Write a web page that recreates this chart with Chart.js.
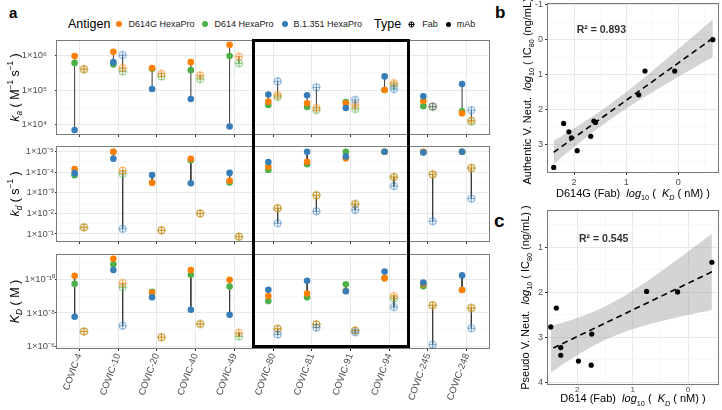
<!DOCTYPE html>
<html>
<head>
<meta charset="utf-8">
<title>Binding kinetics vs neutralization</title>
<script src="https://cdn.jsdelivr.net/npm/chart.js@4.4.1/dist/chart.umd.min.js"></script>
<style>
  body { margin: 0; background: #fff; }
  #fig { position: relative; width: 722px; height: 410px; overflow: hidden; font-family: "Liberation Sans", Arial, sans-serif; }
  #fig canvas { position: absolute; }
  .tag { position: absolute; font-weight: bold; line-height: 1; color: #000; }
  #legend { position: absolute; left: 68px; top: 15px; height: 18px; display: flex; align-items: center; white-space: nowrap; font-size: 9px; color: #1a1a1a; }
  #legend .ttl { font-size: 12.5px; margin-right: 6px; color: #000; }
  #legend .item { display: flex; align-items: center; margin-right: 8px; }
  #legend .dot { display: inline-block; border-radius: 50%; margin-right: 6px; }
  #legend img { margin-right: 6px; }
  #box { position: absolute; border: 3px solid #000; box-sizing: border-box; }
</style>
</head>
<body>
<div id="fig">
  <div class="tag" style="left:9px;top:5px;font-size:15px">a</div>
  <div class="tag" style="left:495px;top:4px;font-size:17px">b</div>
  <div class="tag" style="left:494px;top:211px;font-size:19px">c</div>
  <div id="legend"></div>
  <canvas id="ka" width="495" height="110" style="left:0;top:30px"></canvas>
  <canvas id="kd" width="495" height="105" style="left:0;top:140px"></canvas>
  <canvas id="KD" width="495" height="162" style="left:0;top:248px"></canvas>
  <canvas id="corrB" width="240" height="205" style="left:482px;top:0"></canvas>
  <canvas id="corrC" width="240" height="205" style="left:482px;top:205px"></canvas>
  <div id="box"></div>
</div>
<script>
// ---- data (panel a) ----
const covics = ['COVIC-4', 'COVIC-10', 'COVIC-20', 'COVIC-40', 'COVIC-49', 'COVIC-80', 'COVIC-81', 'COVIC-91', 'COVIC-94', 'COVIC-245', 'COVIC-248'];
const antigens = ['D614G HexaPro', 'D614 HexaPro', 'B.1.351 HexaPro'];
const types = ['Fab', 'mAb'];
const highlight = ['COVIC-80', 'COVIC-94'];

// association rate ka (M^-1 s^-1)
const kaMabD614G = [9.8e5, 1.3e6, 4.4e5, 6.5e5, 2.1e6, 4.6e4, 4.1e4, 4.1e4, 1.0e5, 4.8e4, 2.1e4];
const kaMabD614  = [6.2e5, 5.6e5, 4.2e5, 3.8e5, 9.8e5, 3.7e4, 3.2e4, 4.5e4, 1.0e5, 3.4e4, 2.4e4];
const kaMabB1351 = [6.9e3, 6.5e5, 1.07e5, 5.5e4, 8.7e3, 7.4e4, 7.1e4, 3.0e4, 2.5e5, 6.6e4, 1.5e5];
const kaFabD614G = [4.1e5, 4.4e5, 3.0e5, 2.7e5, 9.5e5, 7.1e4, 3.0e4, 3.7e4, 1.6e5, 3.3e4, 1.3e4];
const kaFabD614  = [4.0e5, 3.5e5, 2.5e5, 2.1e5, 6.0e5, 6.3e4, 2.6e4, 2.8e4, 1.4e5, 3.3e4, 1.2e4];
const kaFabB1351 = [null, 1.05e6, null, null, null, 1.8e5, 1.2e5, 5.2e4, 1.07e5, 3.3e4, 2.6e4];

// dissociation rate kd (s^-1)
const kdMabD614G = [6.9e-5, 1.0e-5, 3.2e-4, 2.2e-5, 2.6e-4, 5.4e-5, 3.1e-5, 2.1e-5, 1.0e-5, 1.0e-5, 1.0e-5];
const kdMabD614  = [1.4e-4, 1.0e-5, 3.2e-4, 2.6e-5, 3.1e-4, 7.8e-5, 4.1e-5, 1.0e-5, 1.0e-5, 1.05e-5, 1.0e-5];
const kdMabB1351 = [1.1e-4, 2.2e-5, 1.35e-4, 3.4e-4, 1.07e-4, 3.2e-5, 1.0e-5, 1.7e-5, 1.0e-5, 1.1e-5, 1.0e-5];
const kdFabD614G = [4.7e-2, 8.3e-5, 6.6e-2, 1.0e-2, 1.35e-1, 5.6e-3, 1.3e-3, 3.5e-3, 1.7e-4, 1.26e-4, 6.2e-5];
const kdFabD614  = [4.7e-2, 1.2e-4, 6.6e-2, 1.0e-2, 1.35e-1, 5.6e-3, 1.3e-3, 3.5e-3, 1.7e-4, 1.26e-4, 6.2e-5];
const kdFabB1351 = [null, 5.6e-2, null, null, null, 3.0e-2, 7.8e-3, 6.8e-3, 4.7e-4, 2.4e-2, 1.9e-3];

// affinity KD (M)
const KDMabD614G = [6.3e-11, 6.2e-12, 6.3e-10, 2.9e-11, 1.1e-10, 1.0e-9, 7.1e-10, 5.1e-10, 8.7e-11, 1.9e-10, 4.4e-10];
const KDMabD614  = [1.9e-10, 1.3e-11, 5.6e-10, 5.5e-11, 2.75e-10, 2.0e-9, 1.2e-9, 2.0e-10, 8.7e-11, 2.6e-10, 4.4e-10];
const KDMabB1351 = [1.7e-8, 2.9e-11, 1.2e-9, 6.5e-9, 1.3e-8, 4.2e-10, 1.26e-10, 5.2e-10, 3.5e-11, 1.6e-10, 6.0e-11];
const KDFabD614G = [1.26e-7, 1.7e-10, 2.75e-7, 4.5e-8, 1.5e-7, 8.7e-8, 4.7e-8, 1.1e-7, 1.0e-9, 3.5e-9, 5.1e-9];
const KDFabD614  = [1.26e-7, 3.0e-10, 2.75e-7, 4.5e-8, 2.5e-7, 8.7e-8, 4.7e-8, 1.1e-7, 1.4e-9, 3.5e-9, 5.1e-9];
const KDFabB1351 = [null, 5.8e-8, null, null, null, 1.9e-7, 7.4e-8, 1.4e-7, 4.5e-9, 7.6e-7, 8.1e-8];

// log axis ticks
const kaTicks = [1e4, 1e5, 1e6];
const kaTickLabels = ['1×10⁴', '1×10⁵', '1×10⁶'];
const kaMinor = [3.162e4, 3.162e5];
const kdTicks = [1e-5, 1e-4, 1e-3, 1e-2, 1e-1];
const kdTickLabels = ['1×10⁻⁵', '1×10⁻⁴', '1×10⁻³', '1×10⁻²', '1×10⁻¹'];
const kdMinor = [3.162e-5, 3.162e-4, 3.162e-3, 3.162e-2];
const KDTicks = [1e-10, 1e-8, 1e-6];
const KDTickLabels = ['1×10⁻¹⁰', '1×10⁻⁸', '1×10⁻⁶'];
const KDMinor = [1e-11, 1e-9, 1e-7];

// ---- data (panels b, c) ----
const bKD = [-0.66, 0.64, 0.07, 0.76, 1.62, 1.59, 2.20, 2.10, 2.05, 1.68, 1.94, 2.39];
const bIC80 = [0.00, 0.90, 0.90, 1.58, 2.33, 2.37, 2.40, 2.64, 2.81, 2.77, 3.18, 3.66];
const cKD = [-0.43, 0.75, 0.19, 2.38, 2.48, 1.74, 2.30, 2.30, 1.98, 1.75];
const cIC80 = [1.33, 1.98, 1.99, 2.35, 2.77, 2.93, 3.23, 3.40, 3.53, 3.62];
const bXTicks = [0, 1, 2], bXMinor = [-0.5, 0.5, 1.5];
const bYTicks = [-1, 0, 1, 2, 3], bYMinor = [-0.5, 0.5, 1.5, 2.5, 3.5];
const cXTicks = [0, 1, 2], cXMinor = [-0.5, 0.5, 1.5, 2.5];
const cYTicks = [1, 2, 3, 4], cYMinor = [0.5, 1.5, 2.5, 3.5];
const r2Labels = ['R² = 0.893', 'R² = 0.545'];

// ---- style ----
const colors = ['#FF7F00', '#4DAF4A', '#377EB8'];
const drawOrder = [2, 3, 1];   // blue on top, green at the bottom
const dodge = 0.12;
const FONT = '"Liberation Sans", Arial, sans-serif';
const tickCol = '#4D4D4D';
const gridMajor = '#E9E9E9', gridMinor = '#F4F4F4';

Chart.defaults.font.family = FONT;

function makeFab(color, r, alpha) {
  const s = Math.ceil(r * 2 + 3);
  const c = document.createElement('canvas');
  c.width = s; c.height = s;
  const g = c.getContext('2d');
  const m = s / 2;
  g.globalAlpha = alpha;
  g.strokeStyle = color;
  g.lineWidth = 1;
  g.beginPath(); g.arc(m, m, r, 0, Math.PI * 2); g.stroke();
  g.beginPath();
  g.moveTo(m - r, m); g.lineTo(m + r, m);
  g.moveTo(m, m - r); g.lineTo(m, m + r);
  g.stroke();
  return c;
}
const fabImgs = colors.map(c => makeFab(c, 3.6, 0.7));

// rich text (italic, sub/superscripts) for axis titles
function drawRich(ctx, parts, x, y, rot, size, color) {
  ctx.save();
  ctx.translate(x, y);
  ctx.rotate(rot);
  ctx.fillStyle = color;
  ctx.textBaseline = 'alphabetic';
  ctx.textAlign = 'left';
  const font = p => (p.it ? 'italic ' : '') + ((p.sub || p.sup) ? size * 0.66 : size) + 'px ' + FONT;
  let w = 0;
  parts.forEach(p => { ctx.font = font(p); w += ctx.measureText(p.t).width; });
  let cx = -w / 2;
  parts.forEach(p => {
    ctx.font = font(p);
    const dy = p.sub ? size * 0.28 : p.sup ? -size * 0.42 : 0;
    ctx.fillText(p.t, cx, size * 0.36 + dy);
    cx += ctx.measureText(p.t).width;
  });
  ctx.restore();
}

const axisTitles = {
  id: 'axisTitles',
  afterDraw(chart, args, opts) {
    const a = chart.chartArea;
    (opts.items || []).forEach(it => {
      const x = it.axis === 'y' ? it.pos : (a.left + a.right) / 2;
      const y = it.axis === 'y' ? (a.top + a.bottom) / 2 : it.pos;
      drawRich(chart.ctx, it.parts, x, y, it.axis === 'y' ? -Math.PI / 2 : 0, it.size, '#000');
    });
  }
};
const panelBorder = {
  id: 'panelBorder',
  afterDraw(chart) {
    const a = chart.chartArea, ctx = chart.ctx;
    ctx.save();
    ctx.strokeStyle = '#7a7a7a';
    ctx.lineWidth = 1;
    ctx.strokeRect(Math.round(a.left) - 0.5, Math.round(a.top) - 0.5, Math.round(a.right - a.left) + 1, Math.round(a.bottom - a.top) + 1);
    ctx.restore();
  }
};
const note = {
  id: 'note',
  afterDatasetsDraw(chart, args, opts) {
    if (!opts.text) return;
    const ctx = chart.ctx;
    ctx.save();
    ctx.font = 'bold 10.5px ' + FONT;
    ctx.fillStyle = '#333';
    ctx.textBaseline = 'middle';
    ctx.textAlign = 'left';
    ctx.fillText(opts.text, chart.scales.x.getPixelForValue(opts.x), chart.scales.y.getPixelForValue(opts.y));
    ctx.restore();
  }
};
Chart.register(axisTitles, panelBorder, note);

const isMinor = c => c.tick && c.tick.minor;
function gridOpts(len) {
  return {
    color: c => isMinor(c) ? gridMinor : gridMajor,
    lineWidth: c => isMinor(c) ? 0.6 : 1,
    tickColor: c => isMinor(c) ? 'rgba(0,0,0,0)' : '#333',
    tickLength: len
  };
}
function setTicks(major, labels, minor) {
  return s => {
    s.ticks = major.map((v, i) => ({ value: v, lbl: labels[i] }))
      .concat(minor.map(v => ({ value: v, minor: true, lbl: '' })))
      .sort((p, q) => p.value - q.value);
  };
}
const base = {
  responsive: false, animation: false, events: [],
  plugins: { legend: { display: false }, tooltip: { enabled: false } }
};

// vertical segment joining the antigens of one antibody
function rangeSegments(rows, off) {
  const out = [];
  covics.forEach((c, i) => {
    const v = rows.map(r => r[i]).filter(x => x != null);
    out.push({ x: i + off, y: Math.min(...v) }, { x: i + off, y: Math.max(...v) }, { x: i + off, y: null });
  });
  return out;
}

function makeKinetic(id, mab, fab, ax) {
  const datasets = [];
  [[mab, -dodge, 'mAb'], [fab, dodge, 'Fab']].forEach(([rows, off, type]) => {
    datasets.push({ data: rangeSegments(rows, off), showLine: true, spanGaps: false, borderColor: '#3a3a3a', borderWidth: 1, pointRadius: 0, order: 10 });
    rows.forEach((vals, k) => datasets.push({
      label: antigens[k] + ' ' + type,
      data: vals.map((v, i) => ({ x: i + off, y: v })),
      pointStyle: type === 'mAb' ? 'circle' : fabImgs[k],
      pointRadius: type === 'mAb' ? 3.3 : 4,
      backgroundColor: colors[k], borderWidth: 0,
      order: drawOrder[k]
    }));
  });
  const xIdx = covics.map((c, i) => i);
  return new Chart(document.getElementById(id), {
    type: 'scatter',
    data: { datasets },
    options: {
      ...base,
      layout: { padding: { top: ax.padTop, right: 6, left: 0, bottom: 0 } },
      scales: {
        x: {
          type: 'linear', min: -0.575, max: 10.575,
          afterBuildTicks: setTicks(xIdx, covics, []),
          afterFit: s => { s.height = ax.xH; s.paddingLeft = 0; s.paddingRight = 0; },
          grid: gridOpts(3), border: { display: false },
          ticks: { display: ax.xLabels, autoSkip: false, minRotation: 70, maxRotation: 70, padding: 1, color: tickCol, font: { size: 9.5 },
                   callback: (v, i, t) => t[i].lbl }
        },
        y: {
          type: 'logarithmic', min: ax.min, max: ax.max, reverse: ax.reverse,
          afterBuildTicks: setTicks(ax.ticks, ax.labels, ax.minor),
          afterFit: s => { s.width = 57; s.paddingTop = 0; s.paddingBottom = 0; },
          grid: gridOpts(2), border: { display: false },
          ticks: { autoSkip: false, padding: ax.tickPad, color: tickCol, font: { size: 9.5 }, callback: (v, i, t) => t[i].lbl }
        }
      },
      plugins: { ...base.plugins, axisTitles: { items: [{ axis: 'y', pos: 14, size: 12.5, parts: ax.title }] } }
    }
  });
}

const chKa = makeKinetic('ka', [kaMabD614G, kaMabD614, kaMabB1351], [kaFabD614G, kaFabD614, kaFabB1351], {
  padTop: 11, xH: 6, xLabels: false, min: 5.25e3, max: 2.69e6, reverse: false,
  ticks: kaTicks, labels: kaTickLabels, minor: kaMinor, tickPad: 8,
  title: [{ t: 'k', it: 1 }, { t: 'a', it: 1, sub: 1 }, { t: ' ( M' }, { t: '−1', sup: 1 }, { t: ' s' }, { t: '−1', sup: 1 }, { t: ' )' }]
});
const chKd = makeKinetic('kd', [kdMabD614G, kdMabD614, kdMabB1351], [kdFabD614G, kdFabD614, kdFabB1351], {
  padTop: 7, xH: 4, xLabels: false, min: 5.9e-6, max: 0.219, reverse: true,
  ticks: kdTicks, labels: kdTickLabels, minor: kdMinor, tickPad: 1,
  title: [{ t: 'k', it: 1 }, { t: 'd', it: 1, sub: 1 }, { t: ' ( s' }, { t: '−1', sup: 1 }, { t: ' )' }]
});
const chKD = makeKinetic('KD', [KDMabD614G, KDMabD614, KDMabB1351], [KDFabD614G, KDFabD614, KDFabB1351], {
  padTop: 7, xH: 62, xLabels: true, min: 3.7e-12, max: 1.2e-6, reverse: true,
  ticks: KDTicks, labels: KDTickLabels, minor: KDMinor, tickPad: 0,
  title: [{ t: 'K', it: 1 }, { t: 'D', it: 1, sub: 1 }, { t: ' ( M )' }]
});

// ---- panels b, c ----
const tQuant = { 8: 2.306, 9: 2.262, 10: 2.228 };
function linFit(xs, ys) {
  const n = xs.length;
  const mx = xs.reduce((s, v) => s + v, 0) / n;
  const my = ys.reduce((s, v) => s + v, 0) / n;
  let sxx = 0, sxy = 0;
  xs.forEach((x, i) => { sxx += (x - mx) ** 2; sxy += (x - mx) * (ys[i] - my); });
  const b = sxy / sxx, a = my - b * mx;
  let sse = 0;
  xs.forEach((x, i) => { sse += (ys[i] - a - b * x) ** 2; });
  return { a, b, n, mx, sxx, s: Math.sqrt(sse / (n - 2)), t: tQuant[n - 2] };
}

function makeCorr(id, xs, ys, cfg) {
  const f = linFit(xs, ys);
  const x0 = Math.min(...xs), x1 = Math.max(...xs);
  const upper = [], lower = [];
  for (let k = 0; k <= 60; k++) {
    const x = x0 + (x1 - x0) * k / 60;
    const yh = f.a + f.b * x;
    const se = f.s * Math.sqrt(1 / f.n + (x - f.mx) ** 2 / f.sxx);
    upper.push({ x, y: yh + f.t * se });
    lower.push({ x, y: yh - f.t * se });
  }
  return new Chart(document.getElementById(id), {
    type: 'scatter',
    data: { datasets: [
      { data: upper, showLine: true, pointRadius: 0, borderColor: 'rgba(0,0,0,0)', fill: '+1', backgroundColor: 'rgba(153,153,153,0.42)', order: 10 },
      { data: lower, showLine: true, pointRadius: 0, borderColor: 'rgba(0,0,0,0)', fill: false, order: 11 },
      { data: [{ x: x0, y: f.a + f.b * x0 }, { x: x1, y: f.a + f.b * x1 }], showLine: true, pointRadius: 0, borderColor: '#000', borderWidth: 1.6, borderDash: [6, 4], order: 5 },
      { data: xs.map((x, i) => ({ x, y: ys[i] })), pointRadius: 2.6, backgroundColor: '#000', borderWidth: 0, order: 1 }
    ] },
    options: {
      ...base,
      layout: { padding: { top: cfg.padTop, right: 3, left: 0, bottom: 0 } },
      scales: {
        x: {
          type: 'linear', min: cfg.xMin, max: cfg.xMax, reverse: true,
          afterBuildTicks: setTicks(cfg.xTicks, cfg.xTicks.map(String), cfg.xMinor),
          afterFit: s => { s.height = cfg.xH; s.paddingLeft = 0; s.paddingRight = 0; },
          grid: gridOpts(cfg.xTickLen), border: { display: false },
          ticks: { autoSkip: false, maxRotation: 0, padding: cfg.xTickPad, color: tickCol, font: { size: cfg.xTickSize }, callback: (v, i, t) => t[i].lbl }
        },
        y: {
          type: 'linear', min: cfg.yMin, max: cfg.yMax, reverse: true,
          afterBuildTicks: setTicks(cfg.yTicks, cfg.yTicks.map(String), cfg.yMinor),
          afterFit: s => { s.width = 66; s.paddingTop = 0; s.paddingBottom = 0; },
          grid: gridOpts(3), border: { display: false },
          ticks: { autoSkip: false, padding: 2, color: tickCol, font: { size: 9 }, callback: (v, i, t) => t[i].lbl }
        }
      },
      plugins: {
        ...base.plugins,
        note: { text: cfg.r2, x: cfg.noteX, y: cfg.noteY },
        axisTitles: { items: [
          { axis: 'y', pos: cfg.yTitleX, size: 11, parts: cfg.yTitle },
          { axis: 'x', pos: cfg.xTitleY, size: 11, parts: cfg.xTitle }
        ] }
      }
    }
  });
}

makeCorr('corrB', bKD, bIC80, {
  padTop: 3, xH: 33, xMin: -0.76, xMax: 2.50, yMin: -1.02, yMax: 3.79,
  xTicks: bXTicks, xMinor: bXMinor, yTicks: bYTicks, yMinor: bYMinor,
  xTickLen: 3, xTickPad: 2, xTickSize: 9,
  r2: r2Labels[0], noteX: 1.95, noteY: -0.28, yTitleX: 45, xTitleY: 193,
  yTitle: [{ t: 'Authentic V. Neut.  ' }, { t: 'log', it: 1 }, { t: '10', sub: 1 }, { t: ' ( IC' }, { t: '80', sub: 1 }, { t: ' (ng/mL) )' }],
  xTitle: [{ t: 'D614G (Fab)  ' }, { t: 'log', it: 1 }, { t: '10', sub: 1 }, { t: ' (  ' }, { t: 'K', it: 1 }, { t: 'D', it: 1, sub: 1 }, { t: ' ( nM) )' }]
});
makeCorr('corrC', cKD, cIC80, {
  padTop: 6, xH: 26, xMin: -0.54, xMax: 2.53, yMin: 0.19, yMax: 4.04,
  xTicks: cXTicks, xMinor: cXMinor, yTicks: cYTicks, yMinor: cYMinor,
  xTickLen: 1, xTickPad: 0, xTickSize: 8,
  r2: r2Labels[1], noteX: 1.97, noteY: 0.82, yTitleX: 43, xTitleY: 193.5,
  yTitle: [{ t: 'Pseudo V. Neut.  ' }, { t: 'log', it: 1 }, { t: '10', sub: 1 }, { t: ' ( IC' }, { t: '80', sub: 1 }, { t: ' (ng/mL) )' }],
  xTitle: [{ t: 'D614 (Fab)  ' }, { t: 'log', it: 1 }, { t: '10', sub: 1 }, { t: ' (  ' }, { t: 'K', it: 1 }, { t: 'D', it: 1, sub: 1 }, { t: ' ( nM) )' }]
});

// ---- legend ----
const legend = document.getElementById('legend');
let html = '<span class="ttl">Antigen</span>';
antigens.forEach((a, k) => {
  html += `<span class="item"><span class="dot" style="width:6px;height:6px;background:${colors[k]}"></span>${a}</span>`;
});
html += '<span class="ttl" style="margin-left:4px">Type</span>';
html += `<span class="item"><img src="${makeFab('#000', 2.6, 1).toDataURL()}">${types[0]}</span>`;
html += `<span class="item"><span class="dot" style="width:5px;height:5px;background:#000"></span>${types[1]}</span>`;
legend.innerHTML = html;

// ---- highlight box over COVIC-80 .. COVIC-94 ----
const box = document.getElementById('box');
const xs = chKD.scales.x;
const bx0 = xs.getPixelForValue(covics.indexOf(highlight[0]) - 0.5);
const bx1 = xs.getPixelForValue(covics.indexOf(highlight[1]) + 0.5);
const by0 = 30 + chKa.chartArea.top - 2;
const by1 = 248 + chKD.chartArea.bottom;
box.style.left = (bx0 - 1.5) + 'px';
box.style.top = by0 + 'px';
box.style.width = (bx1 - bx0 + 3) + 'px';
box.style.height = (by1 - by0) + 'px';
</script>
</body>
</html>
